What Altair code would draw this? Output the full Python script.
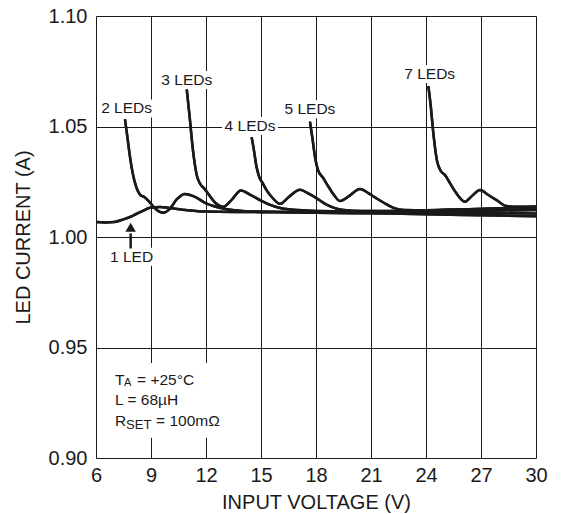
import altair as alt
import pandas as pd

FONT = "Liberation Sans"
INK = "#1a1a1a"

# ---- curve data (input voltage V, LED current A) ----
v_1 = [6.0, 6.5, 7.0, 7.5, 8.0, 8.5, 9.0, 9.5, 10.0, 11.0, 12.0, 14.0, 16.0, 18.0, 20.0, 22.0, 24.0, 26.0, 28.0, 30.0]
i_1 = [1.0068, 1.0066, 1.0068, 1.0080, 1.0096, 1.0116, 1.0133, 1.0136, 1.0131, 1.0121, 1.0115, 1.0113, 1.0112, 1.0110, 1.0108, 1.0106, 1.0103, 1.0100, 1.0097, 1.0094]

v_2 = [7.58, 7.7, 7.85, 8.0, 8.2, 8.4, 8.65, 8.9, 9.13, 9.4, 9.67, 10.0, 10.4, 10.85, 11.4, 12.0, 12.5, 13.0, 14.0, 15.0, 17.0, 20.0, 24.0, 27.0, 30.0]
i_2 = [1.0533, 1.0460, 1.0365, 1.0290, 1.0225, 1.0192, 1.0180, 1.0160, 1.0137, 1.0117, 1.0110, 1.0125, 1.0170, 1.0195, 1.0182, 1.0152, 1.0138, 1.0128, 1.0118, 1.0115, 1.0113, 1.0112, 1.0111, 1.0109, 1.0106]

v_3 = [10.95, 11.1, 11.3, 11.5, 11.7, 11.9, 12.15, 12.5, 12.95, 13.4, 13.9, 14.4, 15.0, 15.5, 16.1, 17.0, 18.0, 20.0, 22.0, 24.0, 26.0, 28.0, 30.0]
i_3 = [1.0668, 1.0550, 1.0385, 1.0278, 1.0238, 1.0220, 1.0192, 1.0155, 1.0137, 1.0168, 1.0210, 1.0192, 1.0165, 1.0145, 1.0130, 1.0122, 1.0118, 1.0116, 1.0117, 1.0118, 1.0119, 1.0120, 1.0122]

v_4 = [14.49, 14.6, 14.75, 14.9, 15.1, 15.3, 15.6, 16.04, 16.5, 17.13, 17.6, 18.04, 18.5, 18.95, 19.5, 20.5, 22.0, 24.0, 26.0, 28.0, 30.0]
i_4 = [1.0451, 1.0400, 1.0320, 1.0272, 1.0243, 1.0212, 1.0180, 1.0150, 1.0180, 1.0214, 1.0196, 1.0175, 1.0150, 1.0133, 1.0122, 1.0118, 1.0118, 1.0121, 1.0124, 1.0127, 1.0130]

v_5 = [17.67, 17.8, 17.95, 18.1, 18.4, 18.7, 19.0, 19.3, 19.8, 20.4, 20.9, 21.3, 21.7, 22.2, 22.8, 24.0, 26.0, 28.0, 30.0]
i_5 = [1.0522, 1.0450, 1.0360, 1.0305, 1.0266, 1.0225, 1.0188, 1.0163, 1.0185, 1.0217, 1.0196, 1.0175, 1.0155, 1.0133, 1.0122, 1.0120, 1.0125, 1.0130, 1.0134]

v_7 = [24.13, 24.25, 24.4, 24.6, 24.8, 25.04, 25.3, 25.6, 26.13, 26.5, 26.95, 27.4, 27.85, 28.4, 29.0, 30.0]
i_7 = [1.0683, 1.0600, 1.0470, 1.0345, 1.0300, 1.0280, 1.0245, 1.0205, 1.0160, 1.0185, 1.0213, 1.0190, 1.0167, 1.0140, 1.0137, 1.0138]

series_names = ["1 LED", "2 LEDs", "3 LEDs", "4 LEDs", "5 LEDs", "7 LEDs"]
series_v = [v_1, v_2, v_3, v_4, v_5, v_7]
series_i = [i_1, i_2, i_3, i_4, i_5, i_7]

x_ticks = [6, 9, 12, 15, 18, 21, 24, 27, 30]
y_ticks = [0.90, 0.95, 1.00, 1.05, 1.10]

# curve labels: text, V, I, half-width of white backing (px)
label_text = ["2 LEDs", "3 LEDs", "4 LEDs", "5 LEDs", "7 LEDs", "1 LED"]
label_v = [7.67, 10.95, 14.4, 17.67, 24.2, 7.94]
label_i = [1.0582, 1.0710, 1.0502, 1.0578, 1.0738, 0.9911]
label_halfw = [28, 28, 28, 28, 28, 24]

# arrow to the 1 LED curve
arrow_v = 7.89
arrow_tail = 0.9948
arrow_base = 1.0016
arrow_head = 1.0044

# conditions box
box_v = [6.45, 13.6]
box_i = [0.9092, 0.9430]
cond_v = 7.04
cond_i = [0.9353, 0.9262, 0.9167]

rows = []
for name, vs, cs in zip(series_names, series_v, series_i):
    for v, c in zip(vs, cs):
        rows.append({"series": name, "V": v, "I": c})
df = pd.DataFrame(rows)

xs = alt.Scale(domain=[6, 30], nice=False, zero=False)
ys = alt.Scale(domain=[0.90, 1.10], nice=False, zero=False)

x_axis = alt.Axis(values=x_ticks, grid=True, gridColor=INK, gridWidth=1, gridOpacity=1,
                  ticks=False, domain=False, labelFont=FONT, labelFontSize=20, labelColor=INK,
                  labelPadding=7, titleFont=FONT, titleFontSize=20, titleFontWeight="normal",
                  titleColor=INK, titlePadding=7, labelFlush=False)
y_axis = alt.Axis(values=y_ticks, format=".2f", grid=True, gridColor=INK, gridWidth=1, gridOpacity=1,
                  ticks=False, domain=False, labelFont=FONT, labelFontSize=20, labelColor=INK,
                  labelPadding=9, titleFont=FONT, titleFontSize=20, titleFontWeight="normal",
                  titleColor=INK, titlePadding=15, labelFlush=False)

base_lines = alt.Chart(df).mark_line(color=INK, strokeWidth=2.5, interpolate="monotone").encode(
    x=alt.X("V:Q", scale=xs, axis=x_axis, title="INPUT VOLTAGE (V)"),
    y=alt.Y("I:Q", scale=ys, axis=y_axis, title="LED CURRENT (A)"),
    detail="series:N",
    order="V:Q",
)

lab_df = pd.DataFrame({"text": label_text, "V": label_v, "I": label_i, "hw": label_halfw})

layers = []
# white backings behind labels
for t, v, c, hw in zip(label_text, label_v, label_i, label_halfw):
    d = pd.DataFrame({"V": [v], "I": [c]})
    layers.append(
        alt.Chart(d).mark_rect(color="white", xOffset=-hw, x2Offset=hw, yOffset=-9, y2Offset=9).encode(
            x=alt.X("V:Q", scale=xs), x2="V:Q", y=alt.Y("I:Q", scale=ys), y2="I:Q"
        )
    )
box_df = pd.DataFrame({"V": [box_v[0]], "V2": [box_v[1]], "I": [box_i[0]], "I2": [box_i[1]]})
layers.append(
    alt.Chart(box_df).mark_rect(color="white").encode(
        x=alt.X("V:Q", scale=xs), x2="V2:Q", y=alt.Y("I:Q", scale=ys), y2="I2:Q"
    )
)

labels = alt.Chart(lab_df).mark_text(font=FONT, fontSize=15.5, color=INK, align="center", baseline="middle").encode(
    x=alt.X("V:Q", scale=xs), y=alt.Y("I:Q", scale=ys), text="text:N"
)

arrow_df = pd.DataFrame({"V": [arrow_v], "I": [arrow_tail], "I2": [arrow_base], "H": [arrow_head]})
shaft = alt.Chart(arrow_df).mark_rule(color=INK, strokeWidth=2.5).encode(
    x=alt.X("V:Q", scale=xs), y=alt.Y("I:Q", scale=ys), y2="I2:Q"
)
head = alt.Chart(arrow_df).mark_point(shape="triangle-up", filled=True, color=INK, size=110, opacity=1).encode(
    x=alt.X("V:Q", scale=xs), y=alt.Y("H:Q", scale=ys)
)

# conditions text pieces: text, line index, dx, dy, size
pieces = [
    ("T", 0, 0, 0, 15.5), ("A", 0, 9, 3, 11), ("= +25°C", 0, 22, 0, 15.5),
    ("L = 68µH", 1, 0, 0, 15.5),
    ("R", 2, 0, 0, 15.5), ("SET", 2, 11, 4, 13), ("= 100mΩ", 2, 41, 0, 15.5),
]
cond_layers = []
for txt, li, dx, dy, fs in pieces:
    d = pd.DataFrame({"V": [cond_v], "I": [cond_i[li]], "t": [txt]})
    cond_layers.append(
        alt.Chart(d).mark_text(font=FONT, fontSize=fs, color=INK, align="left", baseline="middle", dx=dx, dy=dy).encode(
            x=alt.X("V:Q", scale=xs), y=alt.Y("I:Q", scale=ys), text="t:N"
        )
    )

chart = alt.layer(base_lines, *layers, base_lines, labels, shaft, head, *cond_layers).properties(
    width=440, height=442,
    autosize=alt.AutoSizeParams(type="none"),
    padding={"left": 88, "top": 8, "right": 17, "bottom": 56},
).configure_view(stroke=INK, strokeWidth=1.2).configure(background="white")

chart.save("out.html", embed_options={"renderer": "svg", "actions": False})
